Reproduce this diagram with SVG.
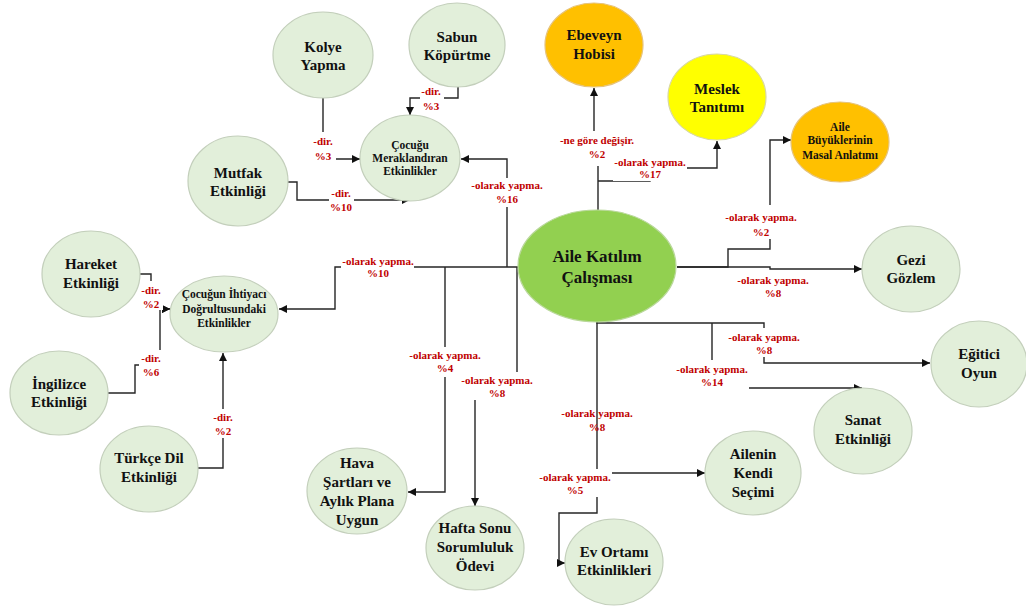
<svg xmlns="http://www.w3.org/2000/svg" width="1026" height="607" viewBox="0 0 1026 607">
<style>
.n{fill:#E2EFDA;stroke:#c3cfbb;stroke-width:1.2}
.c{fill:#92D050;stroke:#b9d89a;stroke-width:1.2}
.o{fill:#FFC000;stroke:#e6c37a;stroke-width:1.2}
.y{fill:#FFFF00;stroke:#d9d9a0;stroke-width:1.2}
.t{font-family:"Liberation Serif","Times New Roman",serif;font-weight:bold;font-size:15px;fill:#111;text-anchor:middle}
.s{font-size:11.5px}
.b{font-size:17px}
.l{font-family:"Liberation Serif","Times New Roman",serif;font-weight:bold;font-size:11px;fill:#C00000;text-anchor:middle}
.w{fill:#fff;stroke:none}
.e{fill:none;stroke:#262626;stroke-width:1.4}
</style>
<defs>
<marker id="a" markerUnits="userSpaceOnUse" markerWidth="9" markerHeight="8" refX="8" refY="4" orient="auto">
<path d="M0,0 L8,4 L0,8 Z" fill="#111"/>
</marker>
</defs>
<rect width="1026" height="607" fill="#fff"/>
<g id="connectors">
<path class="e" d="M323,98 V159 H360" marker-end="url(#a)"/>
<path class="e" d="M458,87 V98 H410 V115" marker-end="url(#a)"/>
<path class="e" d="M287,182 H297 V200 H410" marker-end="url(#a)"/>
<path class="e" d="M507,267 V159 H461" marker-end="url(#a)"/>
<path class="e" d="M518,267 H335 V309 H279" marker-end="url(#a)"/>
<path class="e" d="M445,267 V492 H408" marker-end="url(#a)"/>
<path class="e" d="M517,267 V386 H475 V506" marker-end="url(#a)"/>
<path class="e" d="M598,210 V148 H594 V88" marker-end="url(#a)"/>
<path class="e" d="M598,181 H650 V168 H717 V141" marker-end="url(#a)"/>
<path class="e" d="M677,267 H728 V249 H770 V140 H791" marker-end="url(#a)"/>
<path class="e" d="M677,267 H770 V269 H862" marker-end="url(#a)"/>
<path class="e" d="M597,322 V323 H764 V363 H930" marker-end="url(#a)"/>
<path class="e" d="M712,323 V388 H862" marker-end="url(#a)"/>
<path class="e" d="M597,322 V473 H705" marker-end="url(#a)"/>
<path class="e" d="M597,473 V513 H559 V563 H565" marker-end="url(#a)"/>
<path class="e" d="M140,274 H151 V309 H170" marker-end="url(#a)"/>
<path class="e" d="M108,393 H135 V365 H160 V309 H170" marker-end="url(#a)"/>
<path class="e" d="M198,468 H223 V353" marker-end="url(#a)"/>
</g>
<g id="labels">
<rect class="w" x="310" y="132" width="26" height="33"/>
<text class="l" x="323" y="145">-dir.<tspan x="323" y="160">%3</tspan></text>
<rect class="w" x="420" y="85" width="24" height="27"/>
<text class="l" x="431" y="95">-dir.<tspan x="431" y="110">%3</tspan></text>
<rect class="w" x="329" y="186" width="25" height="27"/>
<text class="l" x="341" y="197">-dir.<tspan x="341" y="211">%10</tspan></text>
<rect class="w" x="468" y="178" width="78" height="29"/>
<text class="l" x="507" y="189">-olarak yapma.<tspan x="507" y="203">%16</tspan></text>
<rect class="w" x="556" y="131" width="82" height="35"/>
<text class="l" x="597" y="144">-ne göre değişir.<tspan x="597" y="158">%2</tspan></text>
<rect class="w" x="613" y="154" width="74" height="27"/>
<text class="l" x="650" y="166">-olarak yapma.<tspan x="650" y="178">%17</tspan></text>
<rect class="w" x="722" y="205" width="78" height="34"/>
<text class="l" x="761" y="221">-olarak yapma.<tspan x="761" y="236">%2</tspan></text>
<text class="l" x="773" y="284">-olarak yapma.<tspan x="773" y="297">%8</tspan></text>
<rect class="w" x="726" y="328" width="76" height="29"/>
<text class="l" x="764" y="341">-olarak yapma.<tspan x="764" y="354">%8</tspan></text>
<rect class="w" x="674" y="360" width="75" height="35"/>
<text class="l" x="712" y="373">-olarak yapma.<tspan x="712" y="386">%14</tspan></text>
<text class="l" x="597" y="417">-olarak yapma.<tspan x="597" y="431">%8</tspan></text>
<rect class="w" x="536" y="469" width="76" height="28"/>
<text class="l" x="575" y="481">-olarak yapma.<tspan x="575" y="494">%5</tspan></text>
<rect class="w" x="406" y="347" width="79" height="30"/>
<text class="l" x="445" y="359">-olarak yapma.<tspan x="445" y="372">%4</tspan></text>
<rect class="w" x="458" y="372" width="77" height="28"/>
<text class="l" x="497" y="384">-olarak yapma.<tspan x="497" y="397">%8</tspan></text>
<rect class="w" x="341" y="254" width="73" height="27"/>
<text class="l" x="378" y="265">-olarak yapma.<tspan x="378" y="277">%10</tspan></text>
<rect class="w" x="140" y="281" width="23" height="29"/>
<text class="l" x="151" y="294">-dir.<tspan x="151" y="308">%2</tspan></text>
<rect class="w" x="139" y="350" width="25" height="29"/>
<text class="l" x="151" y="362">-dir.<tspan x="151" y="376">%6</tspan></text>
<rect class="w" x="210" y="409" width="27" height="29"/>
<text class="l" x="223" y="421">-dir.<tspan x="223" y="435">%2</tspan></text>
</g>
<g id="kolye"><ellipse class="n" cx="323" cy="55" rx="50" ry="43"/><text class="t" x="323" y="52">Kolye<tspan x="323" y="70">Yapma</tspan></text></g>
<g id="sabun"><ellipse class="n" cx="457" cy="45" rx="48" ry="42"/><text class="t" x="457" y="42">Sabun<tspan x="457" y="60">Köpürtme</tspan></text></g>
<g id="meraklandiran"><ellipse class="n" cx="410" cy="158" rx="50" ry="43"/><text class="t s" x="410" y="149">Çocuğu<tspan x="410" y="162">Meraklandıran</tspan><tspan x="410" y="175">Etkinlikler</tspan></text></g>
<g id="mutfak"><ellipse class="n" cx="238" cy="181" rx="50" ry="45"/><text class="t" x="238" y="178">Mutfak<tspan x="238" y="196">Etkinliği</tspan></text></g>
<g id="ebeveyn"><ellipse class="o" cx="594" cy="45" rx="49" ry="42"/><text class="t" x="594" y="40">Ebeveyn<tspan x="594" y="59">Hobisi</tspan></text></g>
<g id="meslek"><ellipse class="y" cx="717" cy="97" rx="49" ry="43"/><text class="t" x="717" y="94">Meslek<tspan x="717" y="112">Tanıtımı</tspan></text></g>
<g id="masal"><ellipse class="o" cx="840" cy="142" rx="49" ry="40"/><text class="t s" x="840" y="131">Aile<tspan x="840" y="144">Büyüklerinin</tspan><tspan x="840" y="159">Masal Anlatımı</tspan></text></g>
<g id="hareket"><ellipse class="n" cx="91" cy="274" rx="49" ry="43"/><text class="t" x="91" y="269">Hareket<tspan x="91" y="288">Etkinliği</tspan></text></g>
<g id="ihtiyac"><ellipse class="n" cx="224" cy="314" rx="54" ry="38"/><text class="t s" x="224" y="298">Çocuğun İhtiyacı<tspan x="224" y="313">Doğrultusundaki</tspan><tspan x="224" y="327">Etkinlikler</tspan></text></g>
<g id="ingilizce"><ellipse class="n" cx="59" cy="393" rx="49" ry="42"/><text class="t" x="59" y="389">İngilizce<tspan x="59" y="407">Etkinliği</tspan></text></g>
<g id="turkce"><ellipse class="n" cx="149" cy="469" rx="49" ry="43"/><text class="t" x="149" y="463">Türkçe Dil<tspan x="149" y="482">Etkinliği</tspan></text></g>
<g id="merkez"><ellipse class="c" cx="597" cy="266" rx="79" ry="56"/><text class="t b" x="597" y="262">Aile Katılım<tspan x="597" y="283">Çalışması</tspan></text></g>
<g id="gezi"><ellipse class="n" cx="911" cy="269" rx="49" ry="43"/><text class="t" x="911" y="265">Gezi<tspan x="911" y="283">Gözlem</tspan></text></g>
<g id="egitici"><ellipse class="n" cx="979" cy="364" rx="48" ry="43"/><text class="t" x="979" y="359">Eğitici<tspan x="979" y="378">Oyun</tspan></text></g>
<g id="sanat"><ellipse class="n" cx="863" cy="431" rx="49" ry="43"/><text class="t" x="863" y="425">Sanat<tspan x="863" y="444">Etkinliği</tspan></text></g>
<g id="ailenin"><ellipse class="n" cx="753" cy="473" rx="48" ry="42"/><text class="t" x="753" y="459">Ailenin<tspan x="753" y="478">Kendi</tspan><tspan x="753" y="497">Seçimi</tspan></text></g>
<g id="evortami"><ellipse class="n" cx="614" cy="562" rx="49" ry="43"/><text class="t" x="614" y="557">Ev Ortamı<tspan x="614" y="575">Etkinlikleri</tspan></text></g>
<g id="hafta"><ellipse class="n" cx="475" cy="548" rx="49" ry="42"/><text class="t" x="475" y="533">Hafta Sonu<tspan x="475" y="552">Sorumluluk</tspan><tspan x="475" y="571">Ödevi</tspan></text></g>
<g id="hava"><ellipse class="n" cx="357" cy="491" rx="50" ry="43"/><text class="t" x="357" y="468">Hava<tspan x="357" y="487">Şartları ve</tspan><tspan x="357" y="506">Aylık Plana</tspan><tspan x="357" y="525">Uygun</tspan></text></g>
</svg>
